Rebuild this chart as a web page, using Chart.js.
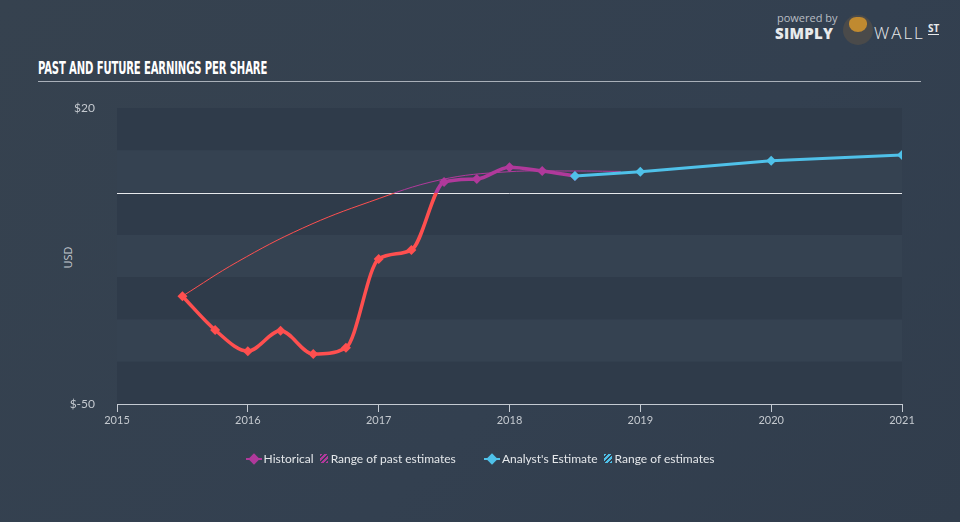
<!DOCTYPE html>
<html>
<head>
<meta charset="utf-8">
<script src="https://cdn.jsdelivr.net/npm/chart.js@4"></script>
<style>
  html, body { margin: 0; padding: 0; }
  body {
    width: 960px; height: 522px; overflow: hidden; position: relative;
    background: linear-gradient(135deg, #36424f 0%, #334050 60%, #313d4c 100%);
    font-family: 'Open Sans', sans-serif;
  }
  #chart { position: absolute; left: 0; top: 0; }
  .title {
    position: absolute; left: 38px; top: 58px; white-space: nowrap;
    font-family: 'Liberation Sans Narrow', 'DejaVu Sans Condensed', sans-serif;
    font-weight: bold; font-size: 17px; color: #fff; letter-spacing: -0.2px;
    transform-origin: left top;
  }
  .rule { position: absolute; left: 38px; top: 81px; width: 883px; height: 1px; background: #a9b0b9; }
  .usd {
    position: absolute; left: 56px; top: 250px; color: #c4c9cf; font-size: 11px;
    transform: rotate(-90deg); transform-origin: center;
  }
  .legend {
    position: absolute; top: 450px; left: 0; width: 960px; text-align: center; white-space: nowrap;
    font-family: 'Lato', sans-serif; font-size: 12px; color: #e4e7ea;
  }
  .legend span { display: inline-block; vertical-align: middle; }
  .dia { width: 8px; height: 8px; transform: rotate(45deg); margin: 0 6px 0 4px; position: relative; }
  .dia::before { content: ''; position: absolute; left: -4px; top: 3px; width: 16px; height: 2px; background: inherit; transform: rotate(-45deg); }
  .hatch { width: 8px; height: 9px; margin: 0 3px; }
  .logo { position: absolute; left: 775px; top: 10px; color: #e8eaec; white-space: nowrap; }
  .logo div { position: absolute; white-space: nowrap; }
  .pb { font-family: 'Open Sans', sans-serif; font-size: 11px; color: #b9bec4; left: 2px; top: 0; }
  .simply { font-family: 'Open Sans', sans-serif; font-weight: 800; font-size: 15px; left: 0; top: 13px; letter-spacing: 0.3px; }
  .bull { left: 68px; top: 5px; width: 30px; height: 30px; border-radius: 50%; background: #4a4a4a; overflow: hidden; }
  .bull::before { content: ''; position: absolute; left: 6px; top: 2px; width: 18px; height: 15px; border-radius: 40% 40% 50% 50%; background: #c08a30; }
  .wall { font-family: 'Open Sans', sans-serif; font-weight: 300; font-size: 17px; left: 99px; top: 11px; letter-spacing: 2px; }
  .st { font-family: 'Open Sans', sans-serif; font-weight: 700; font-size: 10px; left: 153px; top: 13px; border-bottom: 1.5px solid #e8eaec; line-height: 11px; }
</style>
</head>
<body>
<div class="logo">
  <div class="pb">powered by</div>
  <div class="simply">SIMPLY</div>
  <div class="bull"></div>
  <div class="wall">WALL</div>
  <div class="st">ST</div>
</div>
<div class="title" id="title">PAST AND FUTURE EARNINGS PER SHARE</div>
<div class="rule"></div>
<div class="usd">USD</div>
<canvas id="chart" width="960" height="522"></canvas>
<div class="legend">
  <span class="dia" style="background:#b0399b"></span><span>Historical</span>
  <span class="hatch" style="background:repeating-linear-gradient(135deg,#b0399b 0 1.5px,transparent 1.5px 3.5px)"></span><span>Range of past estimates</span>
  <span style="width:22px"></span>
  <span class="dia" style="background:#4fc1e9"></span><span>Analyst's Estimate</span>
  <span class="hatch" style="background:repeating-linear-gradient(135deg,#4fc1e9 0 1.5px,transparent 1.5px 3.5px)"></span><span>Range of estimates</span>
</div>
<script>
// EPS data (USD), x in decimal years
const histYears = [2015.5, 2015.75, 2016.0, 2016.25, 2016.5, 2016.75, 2017.0, 2017.25, 2017.5, 2017.75, 2018.0, 2018.25, 2018.5];
const histEps = [-24.5, -32.5, -37.5, -32.7, -38.2, -36.7, -15.7, -13.6, 2.5, 3.2, 6.0, 5.1, 3.9];

const estYears = [2018.5, 2019.0, 2020.0, 2021.0];
const estEps = [3.9, 4.9, 7.5, 8.9];

const pastRangeYears = [2015.5, 2015.92, 2016.42, 2016.93, 2017.47, 2017.98, 2018.49, 2018.85];
const pastRangeEps = [-24.5, -16.4, -8.4, -2.2, 3.0, 4.9, 5.1, 5.0];

const xTicks = [2015, 2016, 2017, 2018, 2019, 2020, 2021];
const yLabels = { 20: '$20', '-50': '$-50' };

const RED = '#ff4f4f';
const PURPLE = '#b0399b';
const BLUE = '#4fc1e9';

// squeeze title into its width
const t = document.getElementById('title');
t.style.transform = 'scaleX(' + (229 / t.offsetWidth) + ')';

const toXY = (xs, ys) => xs.map((x, i) => ({ x: x, y: ys[i] }));

// red below zero, purple above
function splitColor(ctx) {
  const chart = ctx.chart;
  const area = chart.chartArea;
  if (!area) return RED;
  const y0 = chart.scales.y.getPixelForValue(0);
  const f = Math.min(1, Math.max(0, (y0 - area.top) / (area.bottom - area.top)));
  const g = chart.ctx.createLinearGradient(0, area.top, 0, area.bottom);
  g.addColorStop(0, PURPLE);
  g.addColorStop(f, PURPLE);
  g.addColorStop(f, RED);
  g.addColorStop(1, RED);
  return g;
}
const pointColor = (ctx) => (ctx.raw && ctx.raw.y >= 0 ? PURPLE : RED);

// alternating horizontal bands
const bands = {
  id: 'bands',
  beforeDatasetsDraw(chart) {
    const { ctx, chartArea, scales } = chart;
    const ticks = scales.y.ticks.map(t => t.value).sort((a, b) => b - a);
    ctx.save();
    for (let i = 0; i < ticks.length - 1; i++) {
      const top = scales.y.getPixelForValue(ticks[i]);
      const bot = scales.y.getPixelForValue(ticks[i + 1]);
      ctx.fillStyle = i % 2 === 0 ? '#2f3b4a' : '#354251';
      ctx.fillRect(chartArea.left, top, chartArea.right - chartArea.left, bot - top);
    }
    // zero line
    const y0 = Math.round(scales.y.getPixelForValue(0)) + 0.5;
    ctx.strokeStyle = '#e6e9ec';
    ctx.lineWidth = 1;
    ctx.beginPath();
    ctx.moveTo(chartArea.left, y0);
    ctx.lineTo(chartArea.right, y0);
    ctx.stroke();
    ctx.restore();
  }
};

new Chart(document.getElementById('chart'), {
  type: 'line',
  data: {
    datasets: [
      {
        label: 'Analyst\'s Estimate',
        data: toXY(estYears, estEps),
        borderColor: BLUE,
        backgroundColor: BLUE,
        borderWidth: 3,
        pointStyle: 'rectRot',
        pointRadius: 5,
        pointBackgroundColor: BLUE,
        pointBorderWidth: 0,
        tension: 0,
        order: 1
      },
      {
        label: 'Historical',
        data: toXY(histYears, histEps),
        borderColor: splitColor,
        borderWidth: 3.5,
        pointStyle: 'rectRot',
        pointRadius: 5,
        pointBackgroundColor: pointColor,
        pointBorderWidth: 0,
        cubicInterpolationMode: 'monotone',
        order: 2
      },
      {
        label: 'Range of past estimates',
        data: toXY(pastRangeYears, pastRangeEps),
        borderColor: splitColor,
        borderWidth: 1,
        pointRadius: 0,
        tension: 0.4,
        order: 3
      }
    ]
  },
  options: {
    responsive: false,
    animation: false,
    layout: { padding: { left: 57, right: 58, top: 108, bottom: 88 } },
    plugins: {
      legend: { display: false },
      tooltip: { enabled: false }
    },
    scales: {
      x: {
        type: 'linear',
        min: 2015,
        max: 2021,
        afterFit(scale) { scale.height = 30; },
        afterBuildTicks(scale) { scale.ticks = xTicks.map(v => ({ value: v })); },
        ticks: {
          color: '#c4c9cf',
          font: { family: 'Lato', size: 11 },
          padding: 2,
          maxRotation: 0,
          callback: v => String(v)
        },
        grid: { drawOnChartArea: false, drawTicks: true, tickLength: 8, color: '#c4cad2' },
        border: { display: true, color: '#c4cad2', width: 1 }
      },
      y: {
        min: -50,
        max: 20,
        afterFit(scale) { scale.width = 60; },
        ticks: {
          stepSize: 10,
          color: '#c4c9cf',
          font: { family: 'Lato', size: 12 },
          padding: 14,
          callback: v => yLabels[v] || ''
        },
        grid: { display: false },
        border: { display: false }
      }
    }
  },
  plugins: [bands]
});
</script>
</body>
</html>
